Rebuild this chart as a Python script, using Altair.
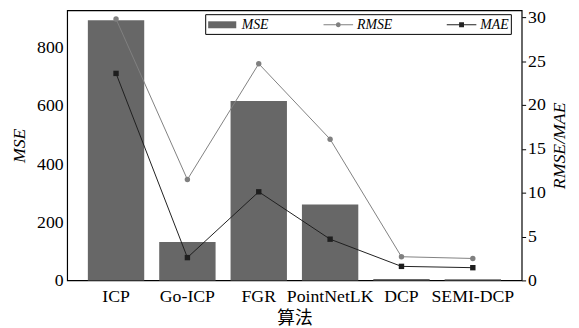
import altair as alt
import pandas as pd

algos = ["ICP", "Go-ICP", "FGR", "PointNetLK", "DCP", "SEMI-DCP"]
mse = [895, 132, 617, 261, 5, 4]
rmse = [29.8, 11.5, 24.7, 16.1, 2.7, 2.5]
mae = [23.6, 2.6, 10.1, 4.7, 1.6, 1.45]
series_names = ["MSE", "RMSE", "MAE"]
series_colors = ["#666666", "#808080", "#222222"]

df_bar = pd.DataFrame({"algo": algos, "mse": mse})
df_line = pd.DataFrame({
    "algo": algos * 2,
    "series": ["RMSE"] * len(algos) + ["MAE"] * len(algos),
    "value": rmse + mae,
})
df_leg = pd.DataFrame({"series": series_names})

SERIF = "Liberation Serif"

x_enc = alt.X("algo:N", sort=algos,
              scale=alt.Scale(paddingInner=0.21, paddingOuter=0.29),
              axis=alt.Axis(title="算法", labelAngle=0, ticks=False, domain=False,
                            labelPadding=7, titlePadding=5,
                            titleFont="Noto Sans CJK SC", titleFontSize=18,
                            titleFontWeight="normal"))

bars = alt.Chart(df_bar).mark_bar(color="#676767").encode(
    x=x_enc,
    y=alt.Y("mse:Q", scale=alt.Scale(domain=[0, 929], nice=False),
            axis=alt.Axis(title="MSE", values=[0, 200, 400, 600, 800], ticks=False,
                          domain=False, labelPadding=4, titlePadding=8,
                          titleFontStyle="italic", grid=False)),
)

y_right = alt.Y("value:Q", scale=alt.Scale(domain=[0, 30.8], nice=False),
                axis=alt.Axis(title="RMSE/MAE", orient="right",
                              values=[0, 5, 10, 15, 20, 25, 30], tickSize=4,
                              tickColor="black", domain=False, labelPadding=2,
                              titleX=38, titleY=137, titleAngle=270,
                              titleAlign="center", titleBaseline="middle",
                              titleFontStyle="italic", grid=False))

rmse_line = alt.Chart(df_line).transform_filter(alt.datum.series == "RMSE").mark_line(
    color="#808080", strokeWidth=1).encode(x=alt.X("algo:N", sort=algos), y=y_right)
rmse_pts = alt.Chart(df_line).transform_filter(alt.datum.series == "RMSE").mark_point(
    color="#808080", filled=True, opacity=1, shape="circle", size=30).encode(
    x=alt.X("algo:N", sort=algos), y=y_right)
mae_line = alt.Chart(df_line).transform_filter(alt.datum.series == "MAE").mark_line(
    color="#1e1e1e", strokeWidth=1).encode(x=alt.X("algo:N", sort=algos), y=y_right)
mae_pts = alt.Chart(df_line).transform_filter(alt.datum.series == "MAE").mark_point(
    color="#1e1e1e", filled=True, opacity=1, shape="square", size=30).encode(
    x=alt.X("algo:N", sort=algos), y=y_right)

lines = alt.layer(rmse_line, rmse_pts, mae_line, mae_pts)

paths = [
    "M-1,-0.47H2.8V0.47H-1Z",
    "M-1,-0.067H0.67V0.067H-1Z M1.33,-0.067H3V0.067H1.33Z M1.33,0A0.33,0.33,0,1,1,0.67,0A0.33,0.33,0,1,1,1.33,0Z",
    "M-1,-0.067H0.67V0.067H-1Z M1.33,-0.067H3V0.067H1.33Z M0.67,-0.33H1.33V0.33H0.67Z",
]
leg = alt.Legend(title=None, orient="none", legendX=140, legendY=4, direction="horizontal",
                 strokeColor="black", padding=2, columnPadding=52, symbolOpacity=1,
                 labelFont=SERIF, labelFontSize=14, labelFontStyle="italic",
                 labelOffset=18, symbolSize=225, labelColor="black")
legend_layer = alt.Chart(df_leg).mark_point(filled=True, opacity=0, size=225).encode(
    x=alt.value(0), y=alt.value(0),
    color=alt.Color("series:N", scale=alt.Scale(domain=series_names, range=series_colors), legend=leg),
    shape=alt.Shape("series:N", scale=alt.Scale(domain=series_names, range=paths), legend=leg),
)

chart = alt.layer(bars, lines, legend_layer).resolve_scale(y="independent").properties(
    width=461, height=274,
    background="white",
    autosize=alt.AutoSizeParams(type="none"),
    padding={"left": 60, "top": 0, "right": 50, "bottom": 46},
).configure_view(stroke="black", strokeWidth=1.2).configure_axis(
    labelFont=SERIF, labelFontSize=18, labelColor="black",
    titleFont=SERIF, titleFontSize=18, titleColor="black", titleFontWeight="normal",
)

chart.save("out.html", embed_options={"renderer": "svg", "actions": False})
